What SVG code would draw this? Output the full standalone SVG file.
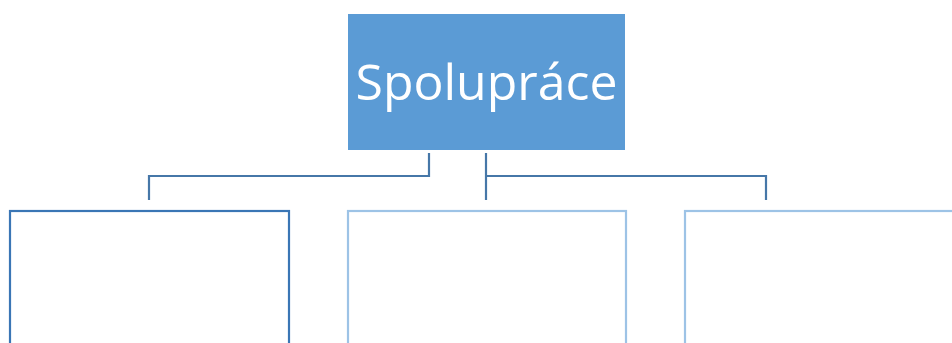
<svg xmlns="http://www.w3.org/2000/svg" width="952" height="343" viewBox="0 0 952 343">
<style>
.conn{fill:none;stroke:#4677A8;stroke-width:2.2}
.lbl{font-family:"Open Sans","Liberation Sans",sans-serif;fill:#ffffff;text-anchor:middle}
</style>
<rect width="952" height="343" fill="#ffffff"/>
<g id="connectors">
<polyline class="conn" points="429,153 429,176 149,176 149,200"/>
<line class="conn" x1="486" y1="153" x2="486" y2="200"/>
<polyline class="conn" points="486,176 766,176 766,200"/>
</g>
<g id="node-root">
<rect x="348" y="14" width="277" height="136" fill="#5B9BD5"/>
<text class="lbl" x="486.5" y="100" font-size="50" textLength="262" lengthAdjust="spacingAndGlyphs">Spolupráce</text>
</g>
<g id="node-left">
<rect x="10" y="211" width="279" height="150" fill="#ffffff" stroke="#3A76B5" stroke-width="2.2"/>
</g>
<g id="node-middle">
<rect x="348" y="211" width="278" height="150" fill="#ffffff" stroke="#9DC3E6" stroke-width="2.2"/>
</g>
<g id="node-right">
<rect x="685" y="211" width="290" height="150" fill="#ffffff" stroke="#9DC3E6" stroke-width="2.2"/>
</g>
</svg>
